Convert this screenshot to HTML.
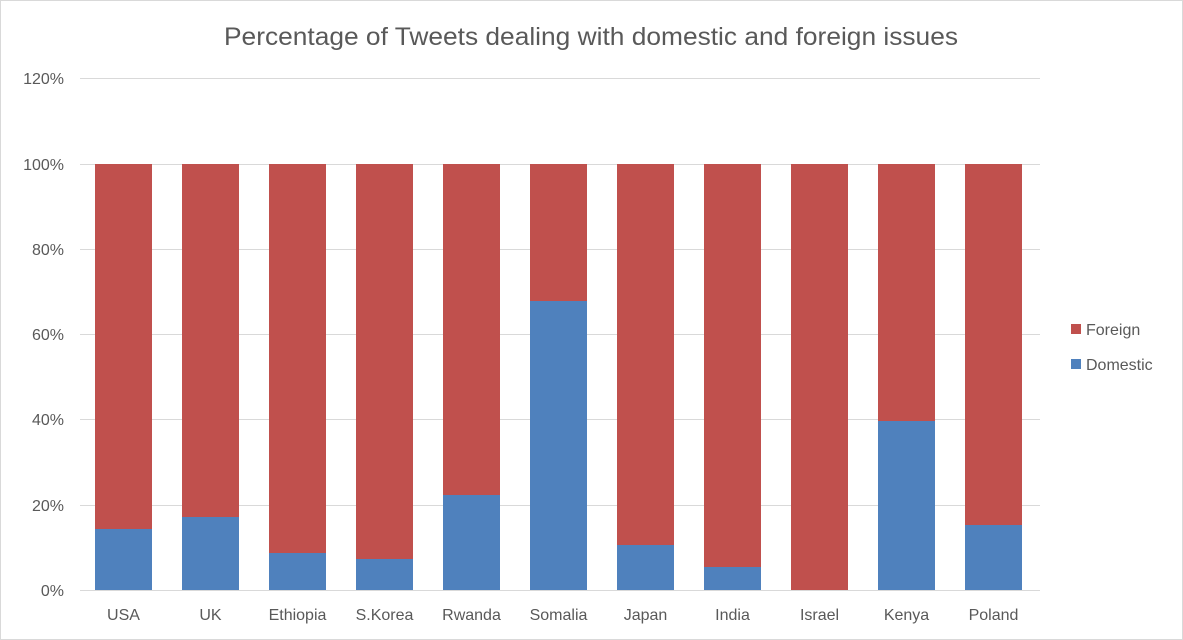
<!DOCTYPE html>
<html><head><meta charset="utf-8"><style>
body{margin:0;background:#fff;}
svg{display:block;font-family:"Liberation Sans",Calibri,sans-serif;}
</style></head><body>
<svg width="1183" height="640" viewBox="0 0 1183 640">
<rect x="0.5" y="0.5" width="1182" height="639" fill="#fff" stroke="#d9d9d9"/>
<text x="224" y="45" font-size="25" fill="#595959" textLength="734" lengthAdjust="spacingAndGlyphs">Percentage of Tweets dealing with domestic and foreign issues</text>
<g stroke="#d9d9d9" stroke-width="1">
<line x1="80" y1="78.5" x2="1040" y2="78.5"/>
<line x1="80" y1="164.5" x2="1040" y2="164.5"/>
<line x1="80" y1="249.5" x2="1040" y2="249.5"/>
<line x1="80" y1="334.5" x2="1040" y2="334.5"/>
<line x1="80" y1="419.5" x2="1040" y2="419.5"/>
<line x1="80" y1="505.5" x2="1040" y2="505.5"/>
<line x1="80" y1="590.5" x2="1040" y2="590.5"/>
</g>
<g font-size="16" fill="#595959" text-anchor="end">
<text x="64" y="84">120%</text><text x="64" y="170">100%</text><text x="64" y="255">80%</text>
<text x="64" y="340">60%</text><text x="64" y="425">40%</text><text x="64" y="511">20%</text><text x="64" y="596">0%</text>
</g>
<g>
<rect x="95" y="164" width="57" height="426" fill="#C0504D"/><rect x="95" y="529" width="57" height="61" fill="#4F81BD"/>
<rect x="182" y="164" width="57" height="426" fill="#C0504D"/><rect x="182" y="517" width="57" height="73" fill="#4F81BD"/>
<rect x="269" y="164" width="57" height="426" fill="#C0504D"/><rect x="269" y="553" width="57" height="37" fill="#4F81BD"/>
<rect x="356" y="164" width="57" height="426" fill="#C0504D"/><rect x="356" y="559" width="57" height="31" fill="#4F81BD"/>
<rect x="443" y="164" width="57" height="426" fill="#C0504D"/><rect x="443" y="495" width="57" height="95" fill="#4F81BD"/>
<rect x="530" y="164" width="57" height="426" fill="#C0504D"/><rect x="530" y="301" width="57" height="289" fill="#4F81BD"/>
<rect x="617" y="164" width="57" height="426" fill="#C0504D"/><rect x="617" y="545" width="57" height="45" fill="#4F81BD"/>
<rect x="704" y="164" width="57" height="426" fill="#C0504D"/><rect x="704" y="567" width="57" height="23" fill="#4F81BD"/>
<rect x="791" y="164" width="57" height="426" fill="#C0504D"/>
<rect x="878" y="164" width="57" height="426" fill="#C0504D"/><rect x="878" y="421" width="57" height="169" fill="#4F81BD"/>
<rect x="965" y="164" width="57" height="426" fill="#C0504D"/><rect x="965" y="525" width="57" height="65" fill="#4F81BD"/>
</g>
<g font-size="16" fill="#595959" text-anchor="middle">
<text x="123.5" y="620">USA</text><text x="210.5" y="620">UK</text><text x="297.5" y="620">Ethiopia</text>
<text x="384.5" y="620">S.Korea</text><text x="471.5" y="620">Rwanda</text><text x="558.5" y="620">Somalia</text>
<text x="645.5" y="620">Japan</text><text x="732.5" y="620">India</text><text x="819.5" y="620">Israel</text>
<text x="906.5" y="620">Kenya</text><text x="993.5" y="620">Poland</text>
</g>
<rect x="1071" y="324" width="10" height="10" fill="#C0504D"/>
<text x="1086" y="335" font-size="16" fill="#595959">Foreign</text>
<rect x="1071" y="359" width="10" height="10" fill="#4F81BD"/>
<text x="1086" y="370" font-size="16" fill="#595959">Domestic</text>
</svg>
</body></html>
